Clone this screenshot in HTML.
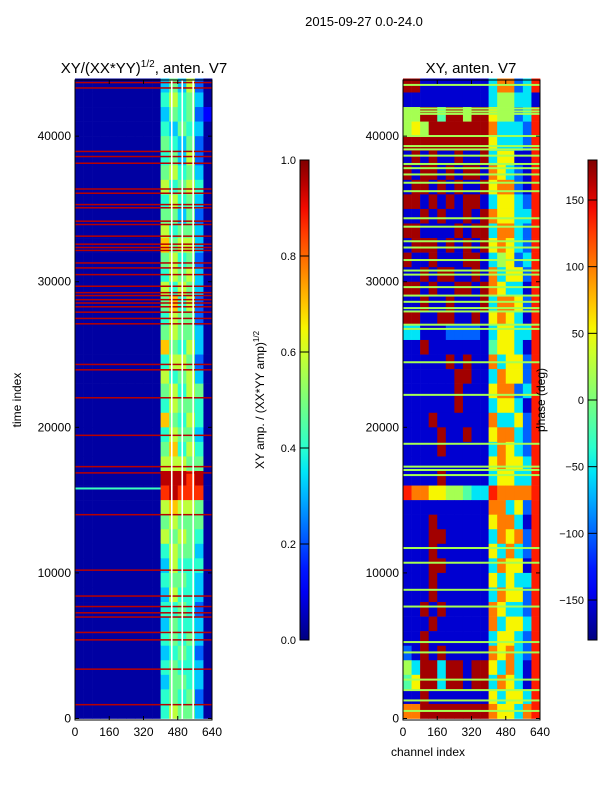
<!DOCTYPE html>
<html><head><meta charset="utf-8">
<style>
html,body{margin:0;padding:0;background:#fff;}
svg text{font-family:"Liberation Sans",sans-serif;fill:#000;}
</style></head>
<body>
<svg id="fig" width="600" height="800" xmlns="http://www.w3.org/2000/svg">
<defs><linearGradient id="jetgrad" x1="0" y1="1" x2="0" y2="0"></linearGradient></defs>
<text x="364" y="26" font-size="13" text-anchor="middle">2015-09-27 0.0-24.0</text>
<text x="144" y="73" font-size="15" text-anchor="middle">XY/(XX*YY)<tspan font-size="10" dy="-6">1/2</tspan><tspan dy="6">, anten. V7</tspan></text>
<text x="471" y="73" font-size="15" text-anchor="middle">XY, anten. V7</text>
<g id="left"></g>
<g id="right"></g>
<g id="cbars"></g>
<text transform="translate(21,400) rotate(-90)" font-size="12" text-anchor="middle">time index</text>
<text x="428" y="756" font-size="12" text-anchor="middle">channel index</text>
<text transform="translate(264,400) rotate(-90)" font-size="12" text-anchor="middle">XY amp. / (XX*YY amp)<tspan font-size="8" dy="-5">1/2</tspan></text>
<text transform="translate(545,400) rotate(-90)" font-size="12" text-anchor="middle">phase (deg)</text>
</svg>
<script>
// ---- data ----
const timeBinSize = 1000;
const channelBinSize = 40;
// amplitude grid digits (0..9), rows listed top (t=43000) to bottom (t=0)
const ampRows = [
"0000000000353620","0000000000464530","0000000000354521","0000000000435430","0000000000543520",
"0000000000453620","0000000000564530","0000000000645640","0000000000464530","0000000000553520",
"0000000000645530","0000000000756630","0000000000564520","0000000000465630","0000000000646530",
"0000000000574620","0000000000465520","0000000000565530","0000000000754630","0000000000466520",
"0000000000645630","0000000000564650","0000000000465540","0000000000754640","0000000000465530",
"0000000000574640","0000000000666550","0000000000999890","0000000000898880","0000000000676650",
"0000000000565550","0000000000656540","0000000000465530","0000000000364440","0000000000455430",
"0000000000364430","0000000000445420","0000000000354430","0000000000454530","0000000000345420",
"0000000000454430","0000000000355430","0000000000454520","0000000000465530"];
const ampLevels = [0.03,0.12,0.22,0.32,0.4,0.48,0.58,0.7,0.86,0.95];
const ampFlagTimes = [43680,43310,38950,38600,38140,36370,36080,35300,35080,34160,33930,33130,32580,32350,32150,31290,30950,30490,29690,29250,29050,28770,28540,28280,27910,27480,27110,24320,23950,22030,19450,17300,16870,14000,10190,8410,7690,7260,6970,5910,5400,3390,950];
const ampFlagValue = 0.95;
const ampSpikeTimes = [15800];
const ampSpikeValues = [0.42];
const ampGapChannels = [452,501,552];
// phase grid digits (0..9), rows top to bottom
const phaseRows = [
"9911111111377238","1111111111355331","5599499599655238","5659999999733328","9999999999633328",
"1919119119366118","9199191991763218","1991919119677218","9919191991366328","1191911919766338",
"9911119199377328","1999191919676328","9119111991356238","1191991191736628","9919119919763318",
"1191191119377628","9911991191676318","3311122221366338","1191111111466318","1111191911736628",
"1111119911376628","1111119111677238","1111119111366318","1119111111733628","1111911911677328",
"1111911111376328","1111111111676638","1111911111366338","8776655433877778","1111111111773628",
"1119111111677318","1119911111376728","1119111111637328","1119911111376618","1119111111636338",
"1119111111376628","1191911111763328","1119111111736638","1191111111366328","2191911111767328",
"5399399199637318","4699399199376318","1191111111636638","7799999999766378"];
const phaseLevels = [0,0.07,0.22,0.35,0.45,0.55,0.65,0.78,0.88,0.97];
const phaseFlagTimes = [43520,41900,41700,41530,40010,39320,39090,38660,38090,37800,37370,36800,36220,34360,33780,32780,32350,31490,30770,30490,29630,29050,28620,28190,27960,27050,26760,24470,22230,18870,17300,17070,16720,11710,10700,8840,7690,5250,4540,2670,1950,1240,520];
const phaseFlagValue = 0.55;
const yTicks = [0,10000,20000,30000,40000];
const xTicks = [0,160,320,480,640];
const ampTicks = [0,0.2,0.4,0.6,0.8,1.0];
const phaseTicks = [-150,-100,-50,0,50,100,150];

// ---- scales ----
const T_MAX = 43960, C_MAX = 640;
const Y0 = 720, Y1 = 80;
function yScale(t){ return Y0 - (t/T_MAX)*(Y0-Y1) - 1.5; }
function xScaleFor(x0){ return c => x0 + (c/C_MAX)*137; }
function jet(v){
  v=Math.max(0,Math.min(1,v));
  function interp(pts){for(let i=1;i<pts.length;i++){if(v<=pts[i][0]){const a=pts[i-1],b=pts[i];return a[1]+(b[1]-a[1])*(v-a[0])/(b[0]-a[0]);}}return pts[pts.length-1][1];}
  const r=interp([[0,0],[0.35,0],[0.66,1],[0.89,1],[1,0.5]]);
  const g=interp([[0,0],[0.125,0],[0.375,1],[0.64,1],[0.91,0],[1,0]]);
  const b=interp([[0,0.5],[0.11,1],[0.34,1],[0.65,0],[1,0]]);
  return `rgb(${Math.round(r*255)},${Math.round(g*255)},${Math.round(b*255)})`;
}
const NS="http://www.w3.org/2000/svg";
function mk(tag,attrs,parent){const e=document.createElementNS(NS,tag);for(const k in attrs)e.setAttribute(k,attrs[k]);parent.appendChild(e);return e;}

function drawPanel(g,x0,rows,levels,flagTimes,flagValue,flagH){
  const xs=xScaleFor(x0);
  const n=rows.length;
  rows.forEach((row,i)=>{
    const t0=(n-1-i)*timeBinSize, t1=t0+timeBinSize;
    for(let j=0;j<row.length;j++){
      const c0=j*channelBinSize, c1=c0+channelBinSize;
      const ya=yScale(Math.min(t1,T_MAX)), yb=yScale(t0);
      const r=mk('rect',{x:xs(c0),y:ya,width:xs(c1)-xs(c0)+0.3,height:yb-ya+0.3,fill:jet(levels[+row[j]])},g);
      
      
    }
  });
  flagTimes.forEach(t=>{
    const l=mk('rect',{x:x0,y:yScale(t)-flagH/2,width:137,height:flagH,fill:jet(flagValue)},g);
    
    
  });
}
function drawAxes(g,x0){
  const xs=xScaleFor(x0);
  mk('rect',{x:x0,y:Y1,width:137,height:Y0-Y1,fill:'none',stroke:'#000','stroke-width':1},g);
  yTicks.forEach(t=>{
    const y=yScale(t);
    mk('line',{x1:x0,x2:x0+4,y1:y,y2:y,stroke:'#000'},g);
    mk('line',{x1:x0+137,x2:x0+133,y1:y,y2:y,stroke:'#000'},g);
    const tx=mk('text',{x:x0-4,y:y+4,'font-size':12,'text-anchor':'end'},g);
    tx.textContent=t;
    
    
  });
  xTicks.forEach(c=>{
    const x=xs(c);
    mk('line',{x1:x,x2:x,y1:Y0,y2:Y0-4,stroke:'#000'},g);
    mk('line',{x1:x,x2:x,y1:Y1,y2:Y1+4,stroke:'#000'},g);
    const tx=mk('text',{x:x,y:736,'font-size':12,'text-anchor':'middle'},g);
    tx.textContent=c;
    
    
  });
}

const L=document.getElementById('left'), R=document.getElementById('right');
drawPanel(L,75,ampRows,ampLevels,ampFlagTimes,ampFlagValue,1.5);
ampSpikeTimes.forEach((t,i)=>{
  const xs=xScaleFor(75);
  const s=mk('rect',{x:75,y:yScale(t)-1,width:xs(400)-75,height:2,fill:jet(ampSpikeValues[i])},L);
  
  
});
ampGapChannels.forEach(c=>{
  const xs=xScaleFor(75);
  const v=mk('rect',{x:xs(c)-0.8,y:Y1,width:1.6,height:Y0-Y1,fill:'#fff'},L);
  
  
});
drawAxes(L,75);
drawPanel(R,403,phaseRows,phaseLevels,phaseFlagTimes,phaseFlagValue,2);
drawAxes(R,403);

// colorbars
const grad=document.getElementById('jetgrad');
for(let i=0;i<=20;i++){mk('stop',{offset:(i/20),'stop-color':jet(i/20)},grad);}
const CB=document.getElementById('cbars');
function colorbar(x,ticks,lo,hi,fmt,name){
  const b=mk('rect',{x:x,y:160,width:9,height:480,fill:'url(#jetgrad)',stroke:'#000','stroke-width':1},CB);
  
  
  ticks.forEach(v=>{
    const y=640-(v-lo)/(hi-lo)*480;
    mk('line',{x1:x,x2:x+9,y1:y,y2:y,stroke:'#000'},CB);
    const t=mk('text',{x:x-4,y:y+4,'font-size':11,'text-anchor':'end'},CB);
    t.textContent=fmt(v);
    
    
  });
}
colorbar(300,ampTicks,0,1,v=>v.toFixed(1),'amplitude-colorbar');
colorbar(588,phaseTicks,-180,180,v=>(v<0?'\u2212'+(-v):''+v),'phase-colorbar');
</script>
</body></html>
